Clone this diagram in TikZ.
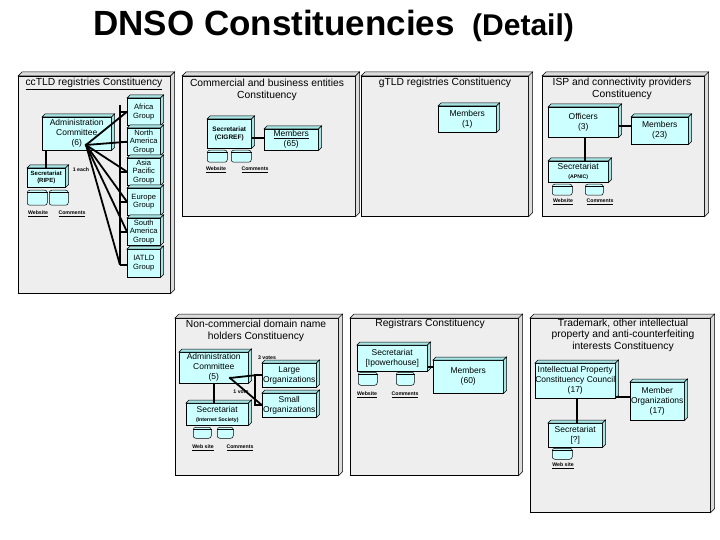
\documentclass[tikz,border=0pt]{standalone}
\usepackage{fontspec}
\setmainfont{Liberation Sans}
\usetikzlibrary{calc}
\definecolor{cyanfill}{HTML}{CCFFFF}
\definecolor{cyanside}{HTML}{A8E4E4}
\definecolor{panelfill}{HTML}{EEEEEE}
\definecolor{panelside}{HTML}{DCDCDC}
\newcommand{\facesof}[3]{%
  \draw[fill=#3, line width=0.5pt] (#1.north west) -- ++(#2,-#2) -- ([shift={(#2,-#2)}]#1.north east) -- (#1.north east) -- cycle;
  \draw[fill=#3, line width=0.5pt] (#1.north east) -- ++(#2,-#2) -- ([shift={(#2,-#2)}]#1.south east) -- (#1.south east) -- cycle;
}
\newcommand{\ndfont}{\fontsize{8.5}{10}\selectfont}
\newcommand{\grfont}{\fontsize{7.6}{8.6}\selectfont}
\newcommand{\ttfnt}{\fontsize{10.3}{11.5}\selectfont}
\newcommand{\tyfont}{\fontsize{5.2}{6.2}\selectfont\bfseries}
% box: [style]{name}{x0}{y0}{x1}{y1}{text}
\newcommand{\bx}[7][cbox]{%
  \pgfmathsetmacro{\bxw}{#5-#3}\pgfmathsetmacro{\bxh}{#6-#4}%
  \node[#1, anchor=north west, minimum width=\bxw pt, minimum height=\bxh pt] (#2) at (#3,#4) {#7};%
}
\newcommand{\cylbox}[5]{%
  \bx[cylst]{#1}{#2}{#3}{#4}{#5}{}%
  \draw[line width=0.4pt] ([yshift=-2.5pt]#1.north west) -- ([yshift=-2.5pt]#1.north east);
}
\tikzset{
  panel/.style={draw, fill=panelfill, inner sep=0pt, line width=0.6pt},
  cbox/.style={draw, fill=cyanfill, inner sep=0pt, align=center, font=\ndfont, line width=0.5pt},
  gbox/.style={cbox, font=\grfont},
  cylst/.style={draw, fill=cyanfill, inner sep=0pt, rounded corners=2.5pt, line width=0.5pt},
  link/.style={line width=2.4pt},
  fan/.style={line width=1.8pt},
  ptitle/.style={inner sep=0pt, align=center, font=\ttfnt},
  tylabel/.style={inner sep=0pt, font=\tyfont},
  dotst/.style={fill=black, circle, inner sep=0pt, minimum size=3pt}
}
\begin{document}
\begin{tikzpicture}[x=1pt, y=-1pt]
\useasboundingbox[fill=white] (0,0) rectangle (720,540);

% title
\node[anchor=base west, font=\fontsize{35}{40}\selectfont\bfseries, inner sep=0pt] (ttl) at (93,36) {DNSO Constituencies};
\node[anchor=base west, font=\fontsize{30}{36}\selectfont\bfseries, inner sep=0pt] (ttl2) at (472,36) {(Detail)};

% panels
\bx[panel]{p1}{18}{76}{170}{293}{}
\bx[panel]{p2}{182}{76}{355}{216}{}
\bx[panel]{p3}{361}{76}{528}{216}{}
\bx[panel]{p4}{542}{76}{704}{216}{}
\bx[panel]{p5}{175}{318}{338}{475}{}
\bx[panel]{p6}{350}{318}{518}{475}{}
\bx[panel]{p7}{530}{318}{710}{512}{}
\foreach \p in {p1,p2,p3,p4,p5,p6,p7} {\facesof{\p}{4}{panelside}}

% panel titles
\node[ptitle] (t1) at (94,84) {\underline{ccTLD registries Constituency}};
\node[ptitle] (t2) at (267,90) {Commercial and business entities\\Constituency};
\node[ptitle] (t3) at (445,83) {gTLD registries Constituency};
\node[ptitle] (t4) at (622,89) {ISP and connectivity providers\\Constituency};
\node[ptitle] (t5) at (256,331) {Non-commercial domain name\\holders Constituency};
\node[ptitle] (t6) at (430,324) {Registrars Constituency};
\node[ptitle] (t7) at (623,335) {Trademark, other intellectual\\property and anti-counterfeiting\\interests Constituency};

% ---- ccTLD panel
\bx{ccadmin}{42}{117}{111}{150}{Administration\\Committee\\(6)}
\bx[cbox, font=\fontsize{6}{7}\selectfont\bfseries]{ccsec}{27}{168}{65}{187}{Secretariat\\(RIPE)}
\cylbox{cccyla}{27}{190}{47}{205}
\cylbox{cccylb}{49}{190}{68}{205}
\node[tylabel] (ccweb) at (38,214) {\underline{Website}};
\node[tylabel] (cccom) at (72,214) {\underline{Comments}};
\node[tylabel] (cceach) at (81,170) {1 each};
\bx[gbox]{gafr}{127}{98}{160}{125}{Africa\\Group}
\bx[gbox]{gnam}{127}{128}{160}{155}{North\\America\\Group}
\bx[gbox]{gasp}{127}{158}{160}{185}{Asia\\Pacific\\Group}
\bx[gbox]{geur}{127}{188}{160}{215}{Europe\\Group}
\bx[gbox]{gsam}{127}{218}{160}{245}{South\\America\\Group}
\bx[gbox]{giat}{127}{249}{160}{277}{IATLD\\Group}
\foreach \g in {ccadmin,ccsec,gafr,gnam,gasp,geur,gsam,giat} {\facesof{\g}{3}{cyanside}}
\node[dotst] (ccdot) at (86,145) {};
\coordinate (bartop) at (120,105);
\coordinate (barbot) at (120,265);
\draw[link] (bartop) -- (barbot);
\draw[link] (barbot) -- (barbot -| giat.west);
\foreach \g in {gafr,gnam,gasp,geur,gsam} {\draw[link] (\g.west) -- ++(-7,0);}
\foreach \g in {gafr,gnam,gasp,geur,gsam} {\draw[fan] (ccdot.center) -- (\g.west);}
\draw[fan] (ccdot.center) -- (barbot);
\draw[link] (ccsec.north) -- (ccsec.north |- ccadmin.south);

% ---- Commercial panel
\bx[cbox, font=\fontsize{6.5}{8}\selectfont\bfseries]{cosec}{207}{119}{251}{148}{Secretariat\\(CIGREF)}
\bx{comem}{264}{129}{318}{150}{\underline{Members}\\(65)}
\facesof{cosec}{3}{cyanside}
\facesof{comem}{3}{cyanside}
\cylbox{cocyla}{207}{150}{227}{162}
\cylbox{cocylb}{231}{150}{251}{162}
\node[tylabel] (coweb) at (216,170) {\underline{Website}};
\node[tylabel] (cocom) at (255,170) {\underline{Comments}};
\draw[link] ([yshift=-4pt]cosec.east) -- ([yshift=-4pt]cosec.east -| comem.west);

% ---- gTLD panel
\bx{gmem}{438}{106}{496}{132}{Members\\(1)}
\facesof{gmem}{3}{cyanside}

% ---- ISP panel
\bx{ioff}{548}{107}{618}{137}{Officers\\(3)}
\bx{imem}{631}{117}{688}{144}{Members\\(23)}
\bx{isec}{548}{161}{608}{182}{Secretariat\\[-1pt]{\tyfont (APNIC)}}
\foreach \g in {ioff,imem,isec} {\facesof{\g}{3}{cyanside}}
\cylbox{icyla}{552}{184}{572}{195}
\cylbox{icylb}{585}{184}{603}{195}
\node[tylabel] (iweb) at (563,202) {\underline{Website}};
\node[tylabel] (icom) at (600,202) {\underline{Comments}};
\draw[link] ([yshift=-4pt]ioff.east) -- ([yshift=-4pt]ioff.east -| imem.west);
\draw[link] ([xshift=7pt]isec.north) -- ([xshift=7pt]isec.north |- ioff.south);

% ---- Non-commercial panel
\bx{nadmin}{179}{352}{248}{383}{Administration\\Committee\\(5)}
\bx{nlarge}{262}{363}{316}{387}{Large\\Organizations}
\bx{nsmall}{262}{393}{316}{417}{Small\\Organizations}
\bx{nsec}{186}{403}{248}{425}{Secretariat\\[-1pt]{\tyfont (Internet Society)}}
\foreach \g in {nadmin,nlarge,nsmall,nsec} {\facesof{\g}{3}{cyanside}}
\cylbox{ncyla}{193}{427}{211}{438}
\cylbox{ncylb}{217}{427}{233}{438}
\node[tylabel] (nweb) at (203,448) {\underline{Web site}};
\node[tylabel] (ncom) at (240,448) {\underline{Comments}};
\node[tylabel] (nthree) at (267,358) {3 votes};
\node[tylabel] (none) at (241,392) {1 vote};
\node[dotst] (ndot) at (230,378) {};
\draw[link] (nlarge.west) -- ++(-7,0) |- (nsmall.west);
\draw[fan] (ndot.center) -- ([xshift=-7pt]nlarge.west);
\draw[fan] (ndot.center) -- (nsmall.west);
\draw[link] ([xshift=-3pt]nsec.north) -- ([xshift=-3pt]nsec.north |- nadmin.south);

% ---- Registrars panel
\bx{rsec}{357}{345}{427}{371}{Secretariat\\{[}Ipowerhouse{]}}
\bx{rmem}{433}{360}{503}{393}{Members\\(60)}
\facesof{rsec}{3}{cyanside}
\facesof{rmem}{3}{cyanside}
\cylbox{rcyla}{358}{372}{377}{385}
\cylbox{rcylb}{396}{372}{414}{385}
\node[tylabel] (rweb) at (367,395) {\underline{Website}};
\node[tylabel] (rcom) at (405,395) {\underline{Comments}};
\draw[link] ([yshift=-9pt]rsec.east) -- ([yshift=-9pt]rsec.east -| rmem.west);

% ---- Trademark panel
\bx{tipc}{535}{363}{615}{398}{Intellectual Property\\Constituency Council\\(17)}
\bx{tmem}{630}{382}{684}{420}{Member\\Organizations\\(17)}
\bx{tsec}{548}{423}{602}{447}{Secretariat\\{[}?{]}}
\foreach \g in {tipc,tmem,tsec} {\facesof{\g}{3}{cyanside}}
\cylbox{tcyl}{552}{448}{572}{459}
\node[tylabel] (tweb) at (563,466) {\underline{Web site}};
\draw[link] ([yshift=-16pt]tipc.east) -- ([yshift=-16pt]tipc.east -| tmem.west);
\draw[link] ([xshift=2pt]tsec.north) -- ([xshift=2pt]tsec.north |- tipc.south);
\end{tikzpicture}
\end{document}
